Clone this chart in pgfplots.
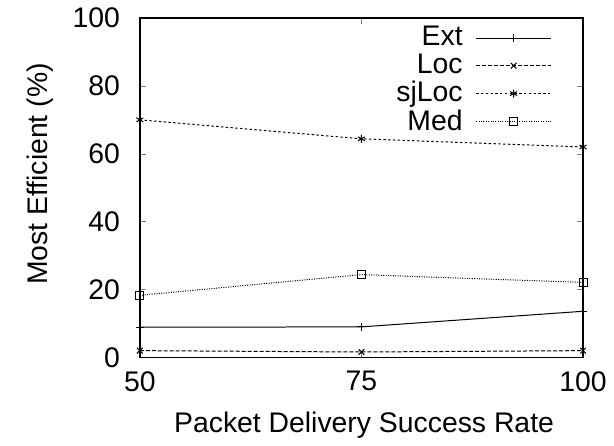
\documentclass[border=0pt]{standalone}
\usepackage{pgfplots}
\pgfplotsset{compat=1.18}
\usepackage{fontspec}
\setmainfont{Liberation Sans}
\begin{document}
\fontsize{14.2}{16}\selectfont
\begin{tikzpicture}
\begin{axis}[
  scale only axis,
  width=222pt, height=170pt,
  xmin=50, xmax=100, ymin=0, ymax=100,
  xtick={50,75,100}, ytick={0,20,40,60,80,100},
  tick align=inside,
  major tick length=3pt,
  /pgf/number format/assume math mode=true,
  tick label style={font=\fontsize{14.2}{16}\selectfont},
  label style={font=\fontsize{14.2}{16}\selectfont},
  xticklabel style={yshift=-2pt},
  yticklabel style={xshift=-5pt},
  xlabel={Packet Delivery Success Rate},
  ylabel={Most Efficient (\%)},
  xlabel style={at={(axis description cs:0.506,-0.2)}, anchor=center},
  ylabel style={at={(axis description cs:-0.225,0.54)}, anchor=center},
  axis line style={line width=0.75pt},
  every axis plot/.append style={black, line width=0.5pt, mark size=2pt, mark options={solid}},
  legend style={draw=none, fill=none, at={(axis description cs:0.93,0.985)}, anchor=north east,
    font=\fontsize{14.2}{16}\selectfont, row sep=-1.2pt, column sep=5pt, inner sep=0pt,
    nodes={inner sep=1.5pt}},
  legend cell align=right,
  legend plot pos=right,
  legend image code/.code={\draw[mark repeat=2,mark phase=2,#1] plot coordinates {(0cm,0cm)(0.66cm,0cm)(1.32cm,0cm)};},
]
\addplot[solid, mark=+] coordinates {(50,8.9) (75,9.0) (100,13.6)};
\addlegendentry{Ext}
\addplot[dash pattern=on 2pt off 1pt, mark=x] coordinates {(50,2.0) (75,1.6) (100,2.0)};
\addlegendentry{Loc}
\addplot[dash pattern=on 1.2pt off 1.2pt, mark=asterisk] coordinates {(50,70) (75,64.4) (100,62)};
\addlegendentry{sjLoc}
\addplot[dash pattern=on 0.5pt off 0.7pt, mark=square] coordinates {(50,18.3) (75,24.4) (100,22.1)};
\addlegendentry{Med}
\end{axis}
\pgfresetboundingbox
\path ([shift={(-70pt,-44pt)}]current axis.south west) rectangle ([shift={(15.5pt,9pt)}]current axis.north east);
\end{tikzpicture}
\end{document}
